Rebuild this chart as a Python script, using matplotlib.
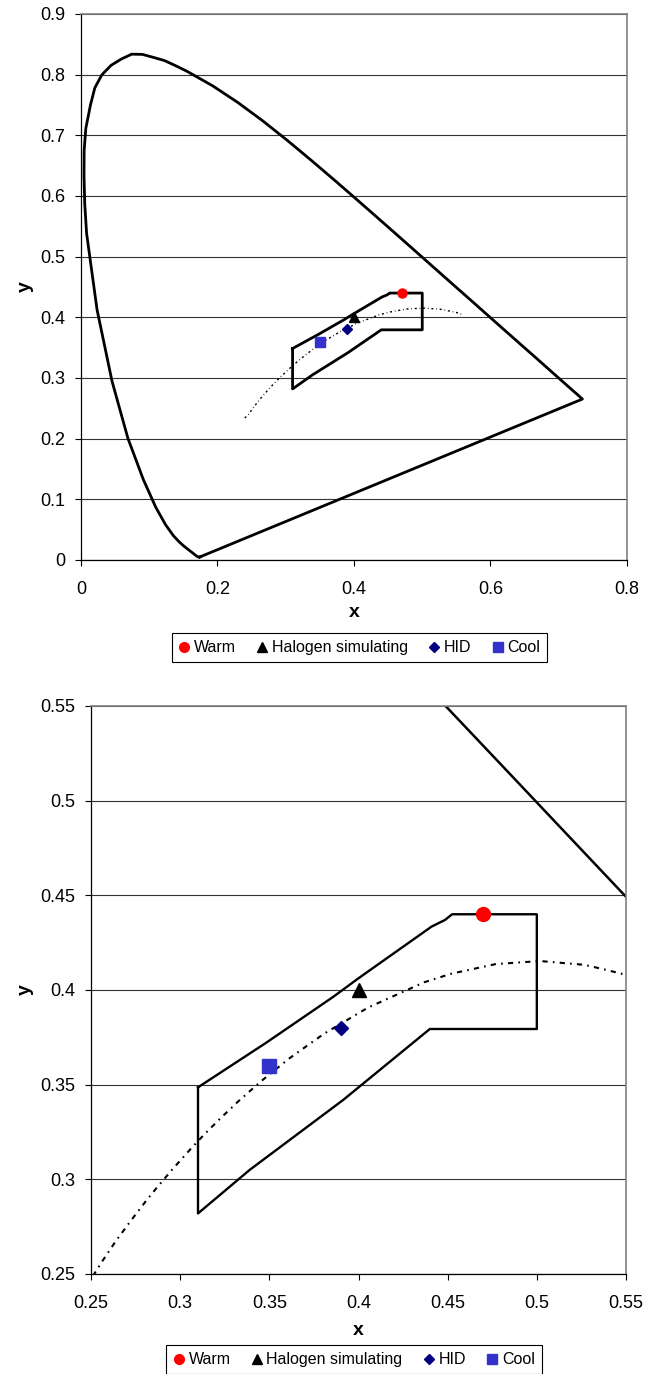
import matplotlib
matplotlib.use('Agg')
import matplotlib.pyplot as plt
from matplotlib.lines import Line2D

plt.rcParams['font.family'] = ['Liberation Sans', 'DejaVu Sans']

# CIE 1931 spectral locus (x, y), closed with the purple line
locus_x = [0.1741, 0.1738, 0.1733, 0.1726, 0.1714, 0.1689, 0.1644, 0.1566, 0.1510, 0.1440,
           0.1355, 0.1241, 0.1096, 0.0913, 0.0687, 0.0454, 0.0235, 0.0082, 0.0055, 0.0044,
           0.0046, 0.0071, 0.0139, 0.0202, 0.0305, 0.0440, 0.0588, 0.0743, 0.0901, 0.1063,
           0.1224, 0.1384, 0.1547, 0.1929, 0.2296, 0.2658, 0.3016, 0.3373, 0.3731,
           0.4087, 0.4441, 0.4788, 0.5125, 0.5448, 0.5752, 0.6029, 0.6270, 0.6482, 0.6658,
           0.6915, 0.7079, 0.7190, 0.7260, 0.7347, 0.1741]
locus_y = [0.0050, 0.0049, 0.0048, 0.0048, 0.0051, 0.0069, 0.0109, 0.0177, 0.0227, 0.0297,
           0.0399, 0.0578, 0.0868, 0.1327, 0.2007, 0.2950, 0.4127, 0.5384, 0.5868, 0.6330,
           0.6751, 0.7117, 0.7502, 0.7781, 0.7997, 0.8153, 0.8256, 0.8338, 0.8334, 0.8284,
           0.8232, 0.8149, 0.8059, 0.7816, 0.7543, 0.7243, 0.6923, 0.6589, 0.6245,
           0.5896, 0.5547, 0.5202, 0.4866, 0.4544, 0.4242, 0.3965, 0.3725, 0.3514, 0.3340,
           0.3083, 0.2920, 0.2809, 0.2740, 0.2653, 0.0050]

# Planckian locus (dotted)
planck_x = [0.2399, 0.2446, 0.2499, 0.2565, 0.2637, 0.2719, 0.2807, 0.2869, 0.2952, 0.3064,
            0.3135, 0.3221, 0.3325, 0.3451, 0.3608, 0.3805, 0.4053, 0.4369, 0.4520, 0.4770,
            0.5018, 0.5267, 0.5359, 0.5497, 0.5600]
planck_y = [0.2342, 0.2388, 0.2472, 0.2570, 0.2671, 0.2776, 0.2884, 0.2956, 0.3048, 0.3166,
            0.3237, 0.3318, 0.3411, 0.3516, 0.3636, 0.3768, 0.3907, 0.4041, 0.4086, 0.4137,
            0.4153, 0.4133, 0.4113, 0.4081, 0.4040]

# bin outline
bin_x = [0.310, 0.348, 0.386, 0.400, 0.441, 0.4485, 0.4525, 0.500, 0.500, 0.440,
         0.3915, 0.339, 0.310, 0.310]
bin_y = [0.3486, 0.372, 0.3965, 0.4062, 0.4335, 0.437, 0.440, 0.440, 0.3794, 0.3794,
         0.342, 0.305, 0.282, 0.3486]

# light sources
names = ['Warm', 'Halogen simulating', 'HID', 'Cool']
pts_x = [0.47, 0.40, 0.39, 0.35]
pts_y = [0.44, 0.40, 0.38, 0.36]
markers = ['o', '^', 'D', 's']
colors = ['#FF0000', '#000000', '#000080', '#3333CC']

W, H = 657, 1374
fig = plt.figure(figsize=(W / 100, H / 100), dpi=100)

ax1 = fig.add_axes([81 / W, 1 - 560 / H, 546 / W, 546 / H])
ax2 = fig.add_axes([91 / W, 1 - 1274 / H, 535 / W, 568 / H])


def style(ax, xticks, yticks, xlabels, ylabels):
    ax.set_xticks(xticks)
    ax.set_yticks(yticks)
    ax.set_xticklabels(xlabels)
    ax.set_yticklabels(ylabels)
    ax.set_xlim(xticks[0], xticks[-1])
    ax.set_ylim(yticks[0], yticks[-1])
    ax.tick_params(direction='out', length=4.3, width=0.8, labelsize=13)
    ax.tick_params(axis='x', pad=11)
    ax.tick_params(axis='y', pad=7)
    ax.grid(axis='y', color='#333333', lw=0.8)
    ax.set_axisbelow(True)
    for s in ['top', 'right']:
        ax.spines[s].set_color('#808080')
        ax.spines[s].set_linewidth(1.2)
    for s in ['left', 'bottom']:
        ax.spines[s].set_color('#000000')
        ax.spines[s].set_linewidth(0.9)
    ax.set_xlabel('x', fontsize=14, fontweight='bold', va='center')
    ax.set_ylabel('y', fontsize=14, fontweight='bold', va='center')


# ---- top: full diagram ----
ax1.plot(locus_x, locus_y, color='black', lw=2)
ax1.plot(planck_x, planck_y, color='black', lw=1, ls=(0, (1.5, 2, 0.5, 2)))
ax1.plot(bin_x, bin_y, color='black', lw=2)
for i in range(4):
    ax1.plot(pts_x[i], pts_y[i], ls='none', marker=markers[i], color=colors[i],
             ms=6.5 if markers[i] != 'D' else 5, zorder=5)
style(ax1, [0, 0.2, 0.4, 0.6, 0.8], [0, 0.1, 0.2, 0.3, 0.4, 0.5, 0.6, 0.7, 0.8, 0.9],
      ['0', '0.2', '0.4', '0.6', '0.8'],
      ['0', '0.1', '0.2', '0.3', '0.4', '0.5', '0.6', '0.7', '0.8', '0.9'])
ax1.xaxis.set_label_coords(0.5, -0.097)
ax1.yaxis.set_label_coords(-0.1026, 0.5)

# ---- bottom: zoomed ----
ax2.plot(locus_x, locus_y, color='black', lw=1.8)
ax2.plot(planck_x, planck_y, color='black', lw=1.5, ls=(0, (2.5, 2.5, 0.8, 2.5)))
ax2.plot(bin_x, bin_y, color='black', lw=1.7)
for i in range(4):
    ax2.plot(pts_x[i], pts_y[i], ls='none', marker=markers[i], color=colors[i],
             ms=10 if markers[i] != 'D' else 7.5, zorder=5)
xt = [0.25, 0.3, 0.35, 0.4, 0.45, 0.5, 0.55]
yt = [0.25, 0.3, 0.35, 0.4, 0.45, 0.5, 0.55]
lab = ['0.25', '0.3', '0.35', '0.4', '0.45', '0.5', '0.55']
style(ax2, xt, yt, lab, lab)
ax2.xaxis.set_label_coords(0.5, -0.0986)
ax2.yaxis.set_label_coords(-0.1234, 0.5)

# legends
handles = [Line2D([], [], ls='none', marker=markers[i], color=colors[i],
                  ms=7 if markers[i] != 'D' else 5.5) for i in range(4)]
for cx, ty in [(359.5 / W, 1 - 633 / H), (354 / W, 1 - 1345 / H)]:
    leg = fig.legend(handles, names, loc='upper center', bbox_to_anchor=(cx, ty),
                     ncol=4, fontsize=11.5, handlelength=0.7, handletextpad=0.25,
                     columnspacing=1.3, borderpad=0.45, borderaxespad=0,
                     fancybox=False, edgecolor='black', framealpha=1)
    leg.get_frame().set_linewidth(0.8)

fig.savefig('out.png', dpi=100)
